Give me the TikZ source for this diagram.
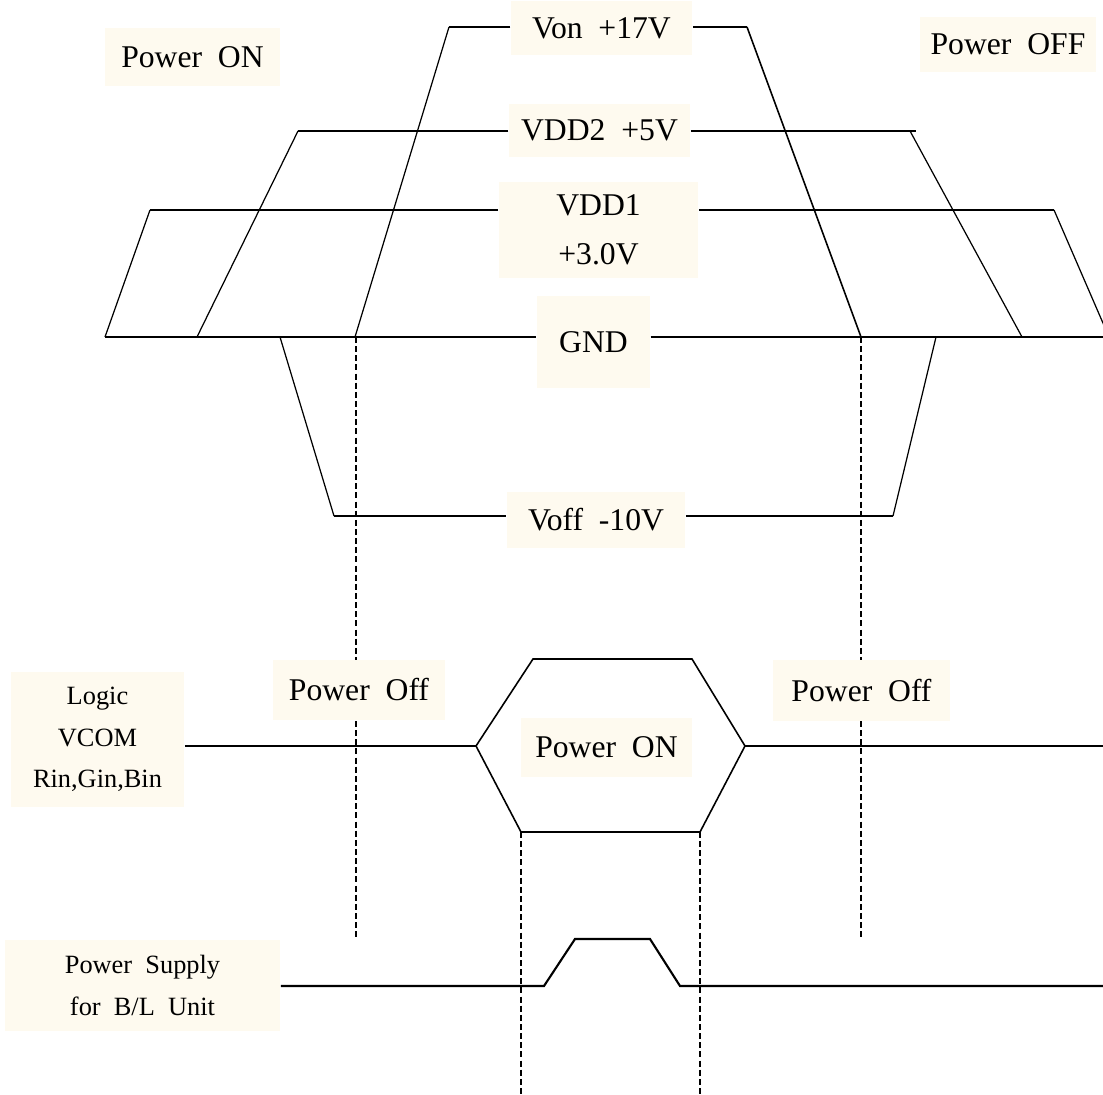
\documentclass[tikz,border=0pt]{standalone}
\usepackage{fontspec}
\setmainfont{Liberation Serif}
\usepackage{xcolor}
\usepackage{tikz}
\definecolor{labelbg}{HTML}{FEFAEF}

\begin{document}
\begin{tikzpicture}[x=0.01cm, y=-0.01cm,
  lbl/.style={fill=labelbg, inner sep=0pt, align=center, font=\fontsize{9}{13.9}\selectfont},
  smalllbl/.style={lbl, font=\fontsize{7.5}{11.8}\selectfont},
  rail/.style={line width=0.45pt},
  thickrail/.style={line width=0.8pt},
  edge/.style={line width=0.35pt},
  sig/.style={line width=0.6pt},
  guide/.style={line width=0.6pt, dash pattern=on 1.7pt off 0.9pt}]
  \useasboundingbox (0,0) rectangle (1103,1095);

  % rail corners
  \coordinate (vonA) at (449,27);   \coordinate (vonB) at (355,337);
  \coordinate (vonC) at (747,27);   \coordinate (vonD) at (861,337);
  \coordinate (vtwoA) at (298,131); \coordinate (vtwoB) at (197,337);
  \coordinate (vtwoC) at (910,131); \coordinate (vtwoD) at (1022,337);
  \coordinate (vtwoE) at (916,131);
  \coordinate (voneA) at (150,210); \coordinate (voneB) at (105,337);
  \coordinate (voneC) at (1054,210); \coordinate (voneD) at (1109,337);
  \coordinate (gndA) at (105,337);  \coordinate (gndB) at (1103,337);
  \coordinate (voffA) at (280,337); \coordinate (voffB) at (334,516);
  \coordinate (voffC) at (893,516); \coordinate (voffD) at (936,337);
  % lower signals
  \coordinate (hexW) at (476,746);  \coordinate (hexE) at (745,746);
  \coordinate (hexSW) at (521,832); \coordinate (hexSE) at (700,832);
  \coordinate (logicEnd) at (1103,746);
  \coordinate (blA) at (544,986);   \coordinate (blB) at (575,939);
  \coordinate (blC) at (650,939);   \coordinate (blD) at (680,986);
  \coordinate (blEnd) at (1103,986);
  \coordinate (guideL) at (356,939); \coordinate (guideR) at (861,939);
  \coordinate (guideSW) at (521,1095); \coordinate (guideSE) at (700,1095);

  \draw[guide] (356,337) -- (guideL);
  \draw[guide] (vonD) -- (guideR);
  \draw[guide] (hexSW) -- (guideSW);
  \draw[guide] (hexSE) -- (guideSE);

  \node (pwrOn) at (192.5,57) [lbl, minimum width=1.75cm, minimum height=0.58cm] {Power~~ON};
  \node (pwrOff) at (1008,44.5) [lbl, minimum width=1.76cm, minimum height=0.55cm] {Power~~OFF};
  \node (von) at (601.5,28) [lbl, minimum width=1.81cm, minimum height=0.54cm] {Von~~+17V};
  \node (vtwo) at (599.5,130.5) [lbl, minimum width=1.81cm, minimum height=0.53cm] {VDD2~~+5V};
  \node (vone) at (598.5,230) [lbl, minimum width=1.99cm, minimum height=0.96cm] {VDD1\\+3.0V};
  \node (gnd) at (593.5,342) [lbl, minimum width=1.13cm, minimum height=0.92cm] {GND};
  \node (voff) at (596,520) [lbl, minimum width=1.78cm, minimum height=0.56cm] {Voff~~-10V};
  \node (offL) at (359,690) [lbl, minimum width=1.72cm, minimum height=0.60cm] {Power~~Off};
  \node (offR) at (861.5,690.5) [lbl, minimum width=1.77cm, minimum height=0.61cm] {Power~~Off};
  \node (onMid) at (606.5,747.5) [lbl, minimum width=1.71cm, minimum height=0.59cm] {Power~~ON};
  \node (logic) at (97.5,739.5) [smalllbl, minimum width=1.73cm, minimum height=1.35cm] {Logic\\VCOM\\Rin,Gin,Bin};
  \node (supply) at (142.5,985.5) [smalllbl, minimum width=2.75cm, minimum height=0.91cm] {Power~~Supply\\for~~B/L~~Unit};

  % supply rails
  \draw[rail] (von.west |- vonA) -- (vonA);
  \draw[edge] (vonA) -- (vonB);
  \draw[rail] (von.east |- vonC) -- (vonC);
  \draw[rail] (vonC) -- (vonD);
  \draw[rail] (vtwo.west |- vtwoA) -- (vtwoA);
  \draw[edge] (vtwoA) -- (vtwoB);
  \draw[rail] (vtwo.east |- vtwoE) -- (vtwoE);
  \draw[edge] (vtwoC) -- (vtwoD);
  \draw[thickrail] (vone.west |- voneA) -- (voneA);
  \draw[edge] (voneA) -- (voneB);
  \draw[thickrail] (vone.east |- voneC) -- (voneC);
  \draw[edge] (voneC) -- (voneD);
  \draw[rail] (gndA) -- (gnd.west |- gndA);
  \draw[rail] (gnd.east |- gndB) -- (gndB);
  \draw[edge] (voffA) -- (voffB);
  \draw[rail] (voffB) -- (voff.west |- voffB);
  \draw[rail] (voff.east |- voffC) -- (voffC);
  \draw[edge] (voffC) -- (voffD);

  % logic and back light
  \draw[sig] (logic.east |- hexW) -- (hexW);
  \draw[rail] (hexW) -- (533,659) -- (692,659) -- (hexE) -- (hexSE) -- (hexSW) -- cycle;
  \draw[sig] (hexE) -- (logicEnd);
  \draw[sig] (supply.east |- blA) -- (blA) -- (blB) -- (blC) -- (blD) -- (blEnd);
\end{tikzpicture}
\end{document}
